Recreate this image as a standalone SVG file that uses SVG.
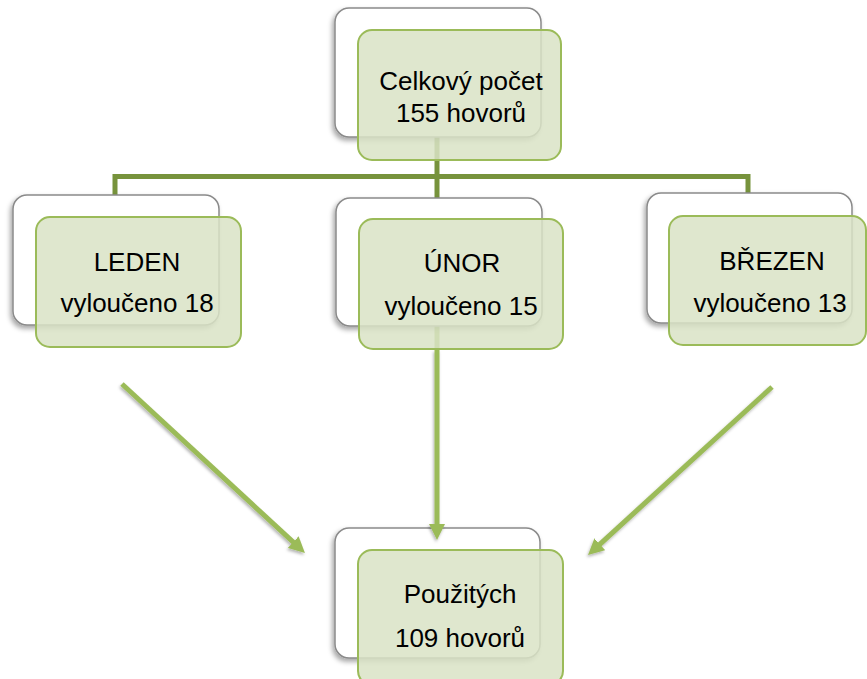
<svg xmlns="http://www.w3.org/2000/svg" width="867" height="679" viewBox="0 0 867 679">
<style>
.back{fill:#ffffff;stroke:#8a8a8a;stroke-width:1.5;filter:url(#sh)}
.front{fill:#D9E3C6;fill-opacity:0.85;stroke:#9BBB59;stroke-width:2}
.tree{fill:none;stroke:#77933C;stroke-width:5}
.stub{fill:none;stroke:#9BBB59;stroke-width:5}
.arr{fill:none;stroke:#9BBB59;stroke-width:5;marker-end:url(#ah);filter:url(#sh2)}
text{font-family:"Liberation Sans",Arial,sans-serif;font-size:26px;fill:#000;text-anchor:middle}
</style>
<defs>
<filter id="sh" x="-20%" y="-20%" width="140%" height="140%">
<feDropShadow dx="-2" dy="3" stdDeviation="2.5" flood-color="#000" flood-opacity="0.35"/>
</filter>
<filter id="sh2" filterUnits="userSpaceOnUse" x="0" y="0" width="867" height="679">
<feDropShadow dx="-1" dy="2" stdDeviation="1.5" flood-color="#000" flood-opacity="0.3"/>
</filter>
<marker id="ah" markerUnits="userSpaceOnUse" markerWidth="16" markerHeight="16" viewBox="0 0 16 16" refX="6" refY="8" orient="auto">
<path d="M0,0 L16,8 L0,16 z" fill="#9BBB59"/>
</marker>
</defs>
<g id="connectors">
<path class="tree" d="M115,196 V176.5 H748 V194"/>
<path class="tree" d="M437,137 V198"/>
<path class="stub" d="M437,326 V350"/>
</g>
<g id="top">
<rect class="back" x="335" y="8" width="206" height="129" rx="14"/>
<rect class="front" x="358" y="30" width="203" height="130" rx="14"/>
<text x="461" y="90">Celkový počet</text>
<text x="461" y="122">155 hovorů</text>
</g>
<g id="leden">
<rect class="back" x="13" y="195" width="206" height="130" rx="14"/>
<rect class="front" x="36" y="217" width="205" height="130" rx="14"/>
<text x="137" y="271">LEDEN</text>
<text x="137" y="312">vyloučeno 18</text>
</g>
<g id="unor">
<rect class="back" x="336" y="198" width="206" height="128" rx="14"/>
<rect class="front" x="359" y="219" width="204" height="130" rx="14"/>
<text x="462" y="272">ÚNOR</text>
<text x="461" y="315">vyloučeno 15</text>
</g>
<g id="brezen">
<rect class="back" x="647" y="193" width="205" height="130" rx="14"/>
<rect class="front" x="669" y="216" width="197" height="129" rx="14"/>
<text x="772" y="270">BŘEZEN</text>
<text x="770" y="312">vyloučeno 13</text>
</g>
<g id="pouzitych">
<rect class="back" x="335" y="528" width="205" height="130" rx="14"/>
<rect class="front" x="358" y="550" width="205" height="135" rx="14"/>
<text x="460" y="603">Použitých</text>
<text x="460" y="647">109 hovorů</text>
</g>
<g id="arrows">
<line class="arr" x1="122" y1="384" x2="297.6" y2="546.2"/>
<line class="arr" x1="437" y1="350" x2="437" y2="530"/>
<line class="arr" x1="772" y1="387" x2="595.4" y2="548.3"/>
</g>
</svg>
